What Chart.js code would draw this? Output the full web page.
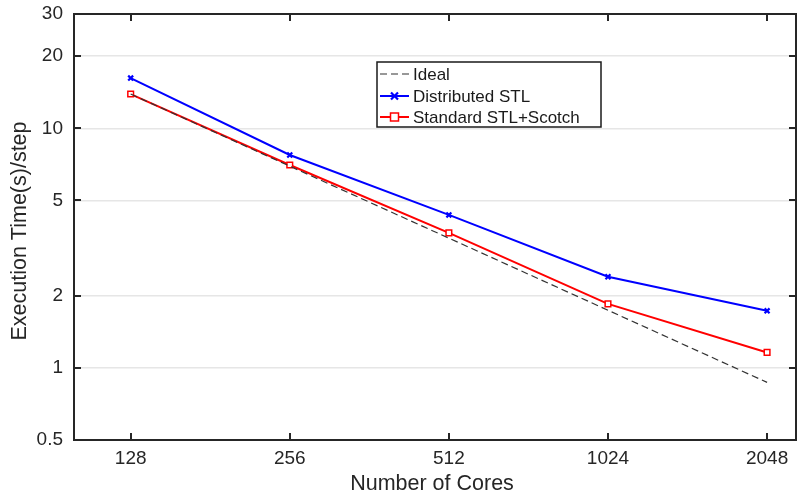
<!DOCTYPE html>
<html>
<head>
<meta charset="utf-8">
<script src="https://cdn.jsdelivr.net/npm/chart.js@4/dist/chart.umd.min.js"></script>
<style>
html,body{margin:0;padding:0;background:#fff;}
#wrap{width:797px;height:497px;position:relative;}
</style>
</head>
<body>
<div id="wrap"><canvas id="c" width="797" height="497"></canvas></div>
<script>
const cores = [128, 256, 512, 1024, 2048];
const idealTimes = [13.9, 6.95, 3.48, 1.74, 0.87];
const distributedTimes = [16.2, 7.74, 4.35, 2.40, 1.73];
const scotchTimes = [13.9, 7.03, 3.66, 1.85, 1.16];
const yTickValues = [0.5, 1, 2, 5, 10, 20, 30];
const xTickValues = [128, 256, 512, 1024, 2048];
const seriesLabels = ['Ideal', 'Distributed STL', 'Standard STL+Scotch'];
const xTitle = 'Number of Cores';
const yTitle = 'Execution Time(s)/step';

const FONT = '"Liberation Sans", Arial, Helvetica, sans-serif';
const pts = arr => cores.map((c, i) => ({x: c, y: arr[i]}));

function zeroPad(s) {
  s.paddingLeft = 0; s.paddingRight = 0; s.paddingTop = 0; s.paddingBottom = 0;
}

const framePlugin = {
  id: 'frame',
  afterDraw(chart) {
    const ctx = chart.ctx;
    const a = chart.chartArea;
    const xs = chart.scales.x, ys = chart.scales.y;
    ctx.save();
    ctx.strokeStyle = '#262626';
    ctx.lineWidth = 2;
    ctx.strokeRect(a.left, a.top, a.right - a.left, a.bottom - a.top);
    const tl = 7;
    ctx.beginPath();
    xTickValues.forEach(v => {
      const px = Math.round(xs.getPixelForValue(v));
      ctx.moveTo(px, a.bottom); ctx.lineTo(px, a.bottom - tl);
      ctx.moveTo(px, a.top); ctx.lineTo(px, a.top + tl);
    });
    yTickValues.forEach(v => {
      const py = Math.round(ys.getPixelForValue(v));
      ctx.moveTo(a.left, py); ctx.lineTo(a.left + tl, py);
      ctx.moveTo(a.right, py); ctx.lineTo(a.right - tl, py);
    });
    ctx.stroke();

    // axis titles
    ctx.fillStyle = '#262626';
    ctx.font = '21.5px ' + FONT;
    ctx.textAlign = 'center';
    ctx.textBaseline = 'middle';
    ctx.fillText(xTitle, 432, 484);
    ctx.save();
    ctx.translate(20, 231);
    ctx.rotate(-Math.PI / 2);
    ctx.fillText(yTitle, 0, 0);
    ctx.restore();

    // legend
    const bx = 377, by = 62, bw = 224, bh = 65;
    ctx.fillStyle = '#fff';
    ctx.fillRect(bx, by, bw, bh);
    ctx.strokeStyle = '#1a1a1a';
    ctx.lineWidth = 1.5;
    ctx.strokeRect(bx, by, bw, bh);
    ctx.font = '17px ' + FONT;
    ctx.textAlign = 'left';
    ctx.textBaseline = 'middle';
    const rows = [74, 96, 117];
    chart.data.datasets.forEach((ds, i) => {
      const y = rows[i];
      ctx.save();
      ctx.strokeStyle = ds.borderColor;
      ctx.lineWidth = ds.borderWidth;
      ctx.setLineDash(ds.borderDash || []);
      ctx.beginPath();
      ctx.moveTo(380, y); ctx.lineTo(409, y);
      ctx.stroke();
      ctx.setLineDash([]);
      if (ds.pointRadius > 0) {
        ctx.strokeStyle = ds.pointBorderColor;
        ctx.lineWidth = ds.pointBorderWidth;
        ctx.fillStyle = ds.pointBackgroundColor;
        const cx = 394.5, r = ds.pointRadius;
        if (ds.pointStyle === 'rect') {
          ctx.fillRect(cx - r, y - r, 2 * r, 2 * r);
          ctx.strokeRect(cx - r, y - r, 2 * r, 2 * r);
        } else {
          ctx.beginPath();
          ctx.moveTo(cx - r, y - r); ctx.lineTo(cx + r, y + r);
          ctx.moveTo(cx - r, y + r); ctx.lineTo(cx + r, y - r);
          ctx.stroke();
        }
      }
      ctx.restore();
      ctx.fillStyle = '#1a1a1a';
      ctx.fillText(ds.label, 413, y + 1);
    });
    ctx.restore();
  }
};

new Chart(document.getElementById('c'), {
  type: 'line',
  data: {
    datasets: [
      {
        label: seriesLabels[0], data: pts(idealTimes),
        borderColor: '#333333', borderWidth: 1.2, borderDash: [7, 4],
        pointRadius: 0, fill: false, tension: 0
      },
      {
        label: seriesLabels[1], data: pts(distributedTimes),
        borderColor: '#0000ff', borderWidth: 2,
        pointStyle: 'crossRot', pointRadius: 3.5, pointBorderWidth: 2.2,
        pointBorderColor: '#0000ff', pointBackgroundColor: '#0000ff',
        fill: false, tension: 0
      },
      {
        label: seriesLabels[2], data: pts(scotchTimes),
        borderColor: '#ff0000', borderWidth: 2,
        pointStyle: 'rect', pointRadius: 4, pointBorderWidth: 1.5,
        pointBorderColor: '#ff0000', pointBackgroundColor: '#ffffff',
        fill: false, tension: 0
      }
    ]
  },
  options: {
    responsive: false,
    animation: false,
    devicePixelRatio: 1,
    layout: { autoPadding: false, padding: { top: 14, right: 1, left: 0, bottom: 0 } },
    plugins: { legend: { display: false }, tooltip: { enabled: false } },
    elements: { line: { borderCapStyle: 'butt' } },
    scales: {
      x: {
        type: 'logarithmic', min: 100, max: 2323,
        afterBuildTicks: s => { s.ticks = xTickValues.map(v => ({value: v})); },
        afterFit: s => { s.height = 57; zeroPad(s); },
        grid: { display: false, drawTicks: false },
        border: { display: false },
        ticks: {
          autoSkip: false, maxRotation: 0, padding: 7,
          color: '#262626', font: { family: FONT, size: 19 },
          callback: v => String(v)
        }
      },
      y: {
        type: 'logarithmic', min: 0.5, max: 30,
        afterBuildTicks: s => { s.ticks = yTickValues.map(v => ({value: v})); },
        afterFit: s => { s.width = 74; zeroPad(s); },
        grid: { color: '#e6e6e6', lineWidth: 1.5, drawTicks: false },
        border: { display: false },
        ticks: {
          autoSkip: false, padding: 11,
          color: '#262626', font: { family: FONT, size: 19 },
          callback: v => String(v)
        }
      }
    }
  },
  plugins: [framePlugin]
});
</script>
</body>
</html>
